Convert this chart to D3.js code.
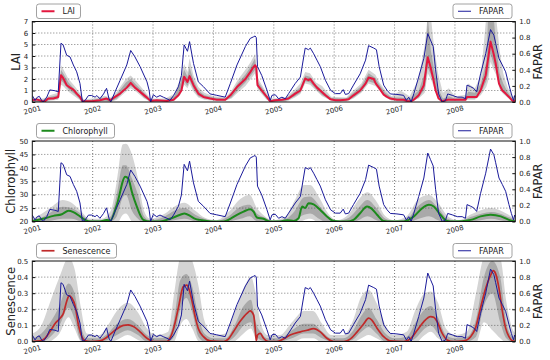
<!DOCTYPE html>
<meta charset="utf-8">
<script src="https://d3js.org/d3.v7.min.js"></script>
<style>
  body { margin:0; background:#fff; }
  text { font-family:"DejaVu Sans", sans-serif; fill:#222; }
</style>
<body>
<script>

/* Data */
/* ============================= */

var yearTicks = [2001, 2002, 2003, 2004, 2005, 2006, 2007, 2008];
var faparTicks = [0, 0.2, 0.4, 0.6, 0.8, 1.0];
var laiTicks = [0, 1, 2, 3, 4, 5, 6, 7];
var chlTicks = [20, 25, 30, 35, 40, 45, 50];
var senTicks = [0, 0.1, 0.2, 0.3, 0.4, 0.5];

// [time, FAPAR]
var fapar = [[2001.00,0.08],[2001.045,0.02],[2001.083,0.06],[2001.116,0.07],[2001.155,0.02],[2001.18,0.0],
  [2001.24,0.06],[2001.29,0.15],[2001.375,0.14],[2001.43,0.125],[2001.475,0.73],[2001.51,0.71],[2001.57,0.58],
  [2001.625,0.56],[2001.68,0.46],[2001.735,0.375],[2001.79,0.23],[2001.83,0.0],[2001.875,0.02],[2001.93,0.08],
  [2001.985,0.08],[2002.04,0.06],[2002.07,0.08],[2002.12,0.04],[2002.18,0.1],[2002.23,0.17],[2002.27,0.04],
  [2002.30,0.0],[2002.37,0.125],[2002.455,0.27],[2002.565,0.46],[2002.63,0.64],[2002.70,0.56],[2002.785,0.44],
  [2002.90,0.25],[2002.935,0.146],[2002.96,0.0],[2003.005,0.09],[2003.06,0.06],[2003.115,0.08],[2003.17,0.06],
  [2003.23,0.04],[2003.28,0.02],[2003.34,0.08],[2003.42,0.19],[2003.47,0.33],[2003.515,0.71],[2003.57,0.63],
  [2003.605,0.75],[2003.67,0.48],[2003.75,0.25],[2003.835,0.19],[2003.945,0.1],[2004.055,0.083],[2004.195,0.06],
  [2004.28,0.23],[2004.39,0.46],[2004.53,0.69],[2004.61,0.79],[2004.665,0.81],[2004.69,0.82],[2004.71,0.80],
  [2004.73,0.44],[2004.80,0.33],[2004.885,0.15],[2004.94,0.02],[2004.97,0.083],[2005.025,0.09],[2005.08,0.04],
  [2005.135,0.06],[2005.19,0.04],[2005.245,0.104],[2005.355,0.23],[2005.44,0.31],[2005.52,0.67],[2005.575,0.65],
  [2005.605,0.67],[2005.66,0.6],[2005.715,0.52],[2005.77,0.44],[2005.855,0.27],[2005.94,0.146],[2006.02,0.104],
  [2006.10,0.104],[2006.15,0.154],[2006.185,0.094],[2006.24,0.104],[2006.32,0.21],[2006.43,0.35],[2006.52,0.52],
  [2006.57,0.70],[2006.655,0.67],[2006.70,0.65],[2006.745,0.44],[2006.82,0.21],[2006.875,0.146],[2006.93,0.1],
  [2007.04,0.094],[2007.15,0.083],[2007.195,0.02],[2007.235,0.06],[2007.275,0.0],[2007.32,0.104],[2007.40,0.31],
  [2007.485,0.54],[2007.55,0.85],[2007.595,0.77],[2007.64,0.69],[2007.68,0.40],[2007.73,0.10],[2007.79,0.0],
  [2007.845,0.02],[2007.88,0.1],[2007.955,0.083],[2008.04,0.06],[2008.12,0.06],[2008.175,0.04],[2008.20,0.21],
  [2008.26,0.19],[2008.31,0.17],[2008.36,0.125],[2008.425,0.35],[2008.51,0.6],[2008.59,0.90],[2008.645,0.83],
  [2008.675,0.73],[2008.73,0.54],[2008.785,0.46],[2008.84,0.375],[2008.895,0.21],[2008.935,0.1],[2008.97,0.02],
  [2008.99,0.08],[2009.0,0.06]];

// [time, LAI]
var lai = [[2001.0,0.15],[2001.07,0.23],[2001.155,0.09],[2001.21,0.06],[2001.265,0.3],[2001.35,0.3],[2001.43,0.44],
  [2001.475,2.33],[2001.51,2.1],[2001.57,1.46],[2001.625,1.25],[2001.68,1.08],[2001.735,0.73],[2001.79,0.44],
  [2001.83,0.06],[2001.90,0.06],[2002.01,0.09],[2002.12,0.15],[2002.23,0.3],[2002.29,0.15],[2002.37,0.44],
  [2002.455,0.73],[2002.565,1.25],[2002.63,1.66],[2002.70,1.25],[2002.785,0.88],[2002.90,0.38],[2002.96,0.09],
  [2003.06,0.15],[2003.23,0.09],[2003.34,0.2],[2003.42,0.58],[2003.47,1.0],[2003.515,2.2],[2003.57,1.75],
  [2003.605,2.25],[2003.67,1.46],[2003.75,0.73],[2003.835,0.44],[2003.945,0.3],[2004.055,0.2],[2004.195,0.2],
  [2004.28,0.58],[2004.39,1.3],[2004.53,2.0],[2004.61,2.6],[2004.665,3.06],[2004.69,3.2],[2004.71,3.06],
  [2004.73,1.46],[2004.80,1.0],[2004.885,0.44],[2004.94,0.06],[2005.025,0.15],[2005.135,0.2],[2005.245,0.3],
  [2005.355,0.73],[2005.44,1.0],[2005.52,2.04],[2005.575,1.9],[2005.605,2.0],[2005.66,1.6],[2005.715,1.25],
  [2005.77,1.0],[2005.855,0.58],[2005.94,0.23],[2006.02,0.15],[2006.10,0.15],[2006.185,0.2],[2006.24,0.23],
  [2006.32,0.58],[2006.43,1.0],[2006.52,1.6],[2006.57,2.13],[2006.655,2.0],[2006.69,1.6],[2006.74,1.25],
  [2006.82,0.64],[2006.875,0.44],[2006.93,0.3],[2007.04,0.2],[2007.15,0.2],[2007.21,0.09],[2007.275,0.06],
  [2007.32,0.2],[2007.40,0.58],[2007.485,1.46],[2007.55,3.9],[2007.595,3.06],[2007.64,2.04],[2007.68,1.0],
  [2007.73,0.3],[2007.79,0.06],[2007.845,0.15],[2007.88,0.2],[2008.04,0.2],[2008.175,0.2],[2008.20,0.44],
  [2008.36,0.44],[2008.425,1.0],[2008.51,2.33],[2008.59,5.25],[2008.645,4.1],[2008.675,3.35],[2008.73,1.6],
  [2008.785,1.0],[2008.84,0.73],[2008.895,0.44],[2008.935,0.2],[2008.97,0.06],[2009.0,0.15]];

// [time, outer low, inner low, inner high, outer high]
var laiBand = [[2001.0,0,0.05,0.25,0.35],[2001.18,0,0,0.2,0.3],[2001.30,0.1,0.2,0.45,0.6],[2001.43,0.2,0.3,0.6,0.8],
  [2001.475,1.5,1.9,2.8,3.2],[2001.51,1.4,1.7,2.5,2.9],[2001.60,0.9,1.1,1.7,2.0],[2001.70,0.5,0.7,1.1,1.4],
  [2001.80,0.1,0.2,0.5,0.7],[2001.85,0,0,0.15,0.25],[2002.0,0,0.05,0.2,0.3],[2002.2,0,0.1,0.4,0.55],
  [2002.3,0,0.05,0.3,0.4],[2002.4,0.2,0.3,0.7,0.9],[2002.55,0.9,1.1,1.7,2.0],[2002.63,1.2,1.4,2.0,2.3],
  [2002.72,0.9,1.1,1.5,1.8],[2002.85,0.3,0.4,0.8,1.0],[2002.96,0,0.05,0.2,0.3],[2003.2,0,0.05,0.2,0.3],
  [2003.35,0.1,0.2,0.5,0.7],[2003.45,0.6,0.8,1.6,2.0],[2003.515,1.5,1.8,2.8,3.3],[2003.57,1.2,1.4,2.2,2.6],
  [2003.605,1.6,1.9,3.0,3.8],[2003.67,0.9,1.1,1.9,2.3],[2003.75,0.4,0.5,1.0,1.3],[2003.85,0.2,0.3,0.6,0.8],
  [2004.0,0.1,0.2,0.4,0.5],[2004.2,0.1,0.15,0.3,0.4],[2004.3,0.3,0.4,0.8,1.0],[2004.40,0.8,1.0,1.6,1.9],
  [2004.53,1.4,1.7,2.4,2.8],[2004.62,2.0,2.3,3.1,3.5],[2004.69,2.5,2.8,3.8,4.2],[2004.73,1.1,1.3,1.8,2.1],
  [2004.80,0.7,0.8,1.3,1.5],[2004.88,0.2,0.3,0.6,0.8],[2004.95,0,0,0.2,0.3],[2005.2,0,0.1,0.3,0.4],
  [2005.35,0.4,0.5,0.9,1.1],[2005.44,0.7,0.8,1.3,1.6],[2005.52,1.6,1.8,2.3,2.6],[2005.60,1.5,1.7,2.2,2.5],
  [2005.70,1.0,1.1,1.5,1.7],[2005.80,0.5,0.6,1.0,1.4],[2005.95,0.1,0.15,0.35,0.45],[2006.2,0.05,0.1,0.3,0.4],
  [2006.32,0.3,0.4,0.8,1.0],[2006.45,0.8,0.9,1.4,1.6],[2006.57,1.6,1.8,2.5,2.8],[2006.68,1.4,1.6,2.1,2.4],
  [2006.75,1.0,1.1,1.5,1.7],[2006.85,0.4,0.5,0.8,1.0],[2006.95,0.1,0.2,0.4,0.5],[2007.10,0.05,0.1,0.4,1.0],
  [2007.25,0,0,0.3,0.5],[2007.40,0.3,0.4,1.0,2.0],[2007.50,0.8,1.1,2.5,5.0],[2007.55,2.5,3.0,7.5,7.5],
  [2007.60,2.0,2.4,4.5,7.5],[2007.65,1.3,1.6,3.0,5.0],[2007.72,0.3,0.5,1.2,2.5],[2007.80,0,0,0.3,0.8],
  [2007.90,0.1,0.15,0.5,1.2],[2008.0,0.1,0.1,0.3,0.5],[2008.17,0.1,0.15,0.4,0.6],[2008.22,0.2,0.3,0.9,1.6],
  [2008.33,0.2,0.3,0.8,1.2],[2008.43,0.6,0.8,1.6,2.3],[2008.52,1.3,1.8,3.5,7.5],[2008.55,1.8,2.5,7.5,7.5],
  [2008.59,3.5,4.2,7.5,7.5],[2008.64,2.8,3.3,7.5,7.5],[2008.68,2.4,2.8,5,7.5],[2008.74,1.1,1.3,2.5,4.5],
  [2008.80,0.7,0.9,1.6,2.5],[2008.87,0.4,0.5,0.9,1.3],[2008.95,0,0.05,0.3,0.5],[2009.0,0,0.05,0.3,0.5]];

// [time, chlorophyll]
var chl = [[2001.0,20.2],[2001.18,21],[2001.35,22.1],[2001.49,22.7],[2001.60,24],[2001.68,23.5],[2001.79,21.9],
  [2001.875,20.6],[2001.96,20],[2002.12,20],[2002.23,20.6],[2002.29,20.3],[2002.40,26.2],[2002.54,36.7],
  [2002.59,36],[2002.65,31],[2002.73,25.6],[2002.84,20.6],[2002.95,20],[2003.115,20],[2003.28,21],[2003.45,22.5],
  [2003.52,23],[2003.62,22],[2003.70,21],[2003.78,20.6],[2003.89,20.2],[2004.0,20],[2004.17,20],[2004.28,21],
  [2004.39,22.5],[2004.50,23.7],[2004.61,24.6],[2004.665,23.7],[2004.72,21.5],[2004.83,21],[2004.94,20],
  [2005.11,20],[2005.22,20.5],[2005.33,20.2],[2005.41,21.2],[2005.47,25.6],[2005.52,25],[2005.575,26.8],
  [2005.66,26.4],[2005.77,24.3],[2005.88,21.9],[2005.99,20.2],[2006.21,20],[2006.32,20.6],[2006.43,23.1],
  [2006.545,25.6],[2006.62,24.8],[2006.71,22.5],[2006.82,20.2],[2006.93,20],[2007.15,20],[2007.32,21.9],
  [2007.46,25],[2007.57,26.2],[2007.65,25.6],[2007.76,22.5],[2007.87,20.2],[2007.98,20],[2008.26,20.6],
  [2008.425,21.9],[2008.59,22.5],[2008.76,21.9],[2008.895,20.6],[2009.0,20]];

var chlBand = [[2001.0,20,20,20.5,21],[2001.2,19,20,22,23.5],[2001.35,19.5,20.5,24,26],[2001.5,19.5,21,25.5,28],
  [2001.65,19.5,21,25,27],[2001.8,19,20,23,24],[2001.95,19,19.5,20.5,21],[2002.15,19,19.5,20.5,21],
  [2002.3,18.5,20,22,24],[2002.4,19,22,30,35],[2002.5,22.5,29,41,48.8],[2002.55,23,30,41,49],
  [2002.65,20,24,36,45],[2002.75,19,21,30,36],[2002.85,18.5,19.5,22,24],[2002.95,19,19.5,20.5,21],
  [2003.2,19.5,20,22,23],[2003.35,19.5,20.5,24,25.5],[2003.52,19.5,21,25,27],[2003.7,19,20,22.5,24],
  [2003.85,19,19.5,21,21.5],[2004.05,19.5,19.8,20.2,20.5],[2004.25,19,20,22,23.5],[2004.45,19.5,21,25.5,28.5],
  [2004.6,20,22,26.2,29.9],[2004.72,19,20,23,25],[2004.85,19,19.5,21.5,22],[2004.98,19.5,19.8,20.2,20.5],
  [2005.2,19,19.5,21,22],[2005.35,19,20.5,24,28],[2005.5,20.5,22.5,29,33.6],[2005.6,21,23,29.3,33.6],
  [2005.75,19.5,21,26,29],[2005.9,19,19.5,22,23],[2006.05,19.5,19.8,20.2,20.5],[2006.25,19,19.5,21.5,23],
  [2006.4,19.5,20.5,25,28],[2006.55,20,22,28,30.9],[2006.7,19.5,20.5,25,27.5],[2006.85,19,19.5,21,22],
  [2007.0,19.5,19.8,20.2,20.5],[2007.2,19,19.5,21,22],[2007.4,19.5,21,26,28.5],[2007.57,20,22,28,29.9],
  [2007.72,19.5,20.5,25,27],[2007.88,19,19.5,21,22],[2008.05,19.5,19.8,20.2,20.5],[2008.3,19.5,20,22,23],
  [2008.6,20,21,23.5,25],[2008.85,19.5,20,22,23],[2009.0,19.5,19.8,20.5,21]];

// [time, senescence]
var sen = [[2001.0,0],[2001.13,0.004],[2001.21,0.02],[2001.29,0.06],[2001.375,0.11],[2001.46,0.145],
  [2001.515,0.175],[2001.57,0.25],[2001.61,0.285],[2001.655,0.27],[2001.71,0.22],[2001.76,0.11],[2001.82,0.03],
  [2001.875,0.004],[2001.96,0],[2002.12,0.004],[2002.23,0.025],[2002.37,0.07],[2002.51,0.1],[2002.59,0.103],
  [2002.675,0.093],[2002.785,0.06],[2002.90,0.02],[2003.005,0],[2003.23,0],[2003.28,0.02],[2003.34,0.08],
  [2003.42,0.21],[2003.50,0.34],[2003.56,0.35],[2003.60,0.32],[2003.64,0.26],[2003.70,0.15],[2003.75,0.08],
  [2003.835,0.03],[2003.945,0.004],[2004.17,0],[2004.25,0.016],[2004.33,0.06],[2004.44,0.124],[2004.555,0.175],
  [2004.61,0.19],[2004.665,0.165],[2004.69,0.09],[2004.71,0.004],[2004.73,0.04],[2004.775,0.05],[2004.83,0.02],
  [2004.91,0],[2005.05,0],[2005.16,0.016],[2005.27,0.04],[2005.44,0.06],[2005.55,0.07],[2005.66,0.08],
  [2005.77,0.06],[2005.88,0.02],[2005.99,0],[2006.16,0],[2006.27,0.016],[2006.38,0.06],[2006.49,0.11],
  [2006.57,0.145],[2006.62,0.135],[2006.71,0.083],[2006.82,0.03],[2006.93,0.004],[2007.15,0],[2007.26,0.016],
  [2007.375,0.07],[2007.485,0.124],[2007.595,0.155],[2007.65,0.15],[2007.705,0.124],[2007.79,0.05],
  [2007.87,0.01],[2007.98,0],[2008.15,0.004],[2008.26,0.03],[2008.34,0.083],[2008.425,0.21],[2008.51,0.33],
  [2008.59,0.41],[2008.635,0.44],[2008.675,0.42],[2008.73,0.33],[2008.785,0.19],[2008.84,0.083],
  [2008.895,0.03],[2008.95,0.004],[2009.0,0]];

var senBand = [[2001.0,-0.01,0,0.02,0.05],[2001.15,-0.02,0,0.05,0.1],[2001.3,0.0,0.03,0.12,0.25],
  [2001.45,0.05,0.1,0.22,0.40],[2001.60,0.15,0.21,0.36,0.52],[2001.70,0.08,0.14,0.30,0.45],[2001.80,0.0,0.01,0.1,0.22],
  [2001.9,-0.02,0,0.02,0.05],[2002.1,-0.02,0,0.02,0.04],[2002.25,-0.01,0.01,0.05,0.10],[2002.4,0.01,0.04,0.11,0.19],
  [2002.58,0.04,0.07,0.14,0.24],[2002.75,0.01,0.04,0.10,0.18],[2002.9,-0.01,0.0,0.04,0.08],[2003.05,-0.02,0,0.02,0.04],
  [2003.25,-0.02,0,0.03,0.06],[2003.35,0.0,0.03,0.14,0.3],[2003.45,0.1,0.2,0.38,0.52],[2003.55,0.14,0.27,0.42,0.55],
  [2003.65,0.08,0.18,0.34,0.50],[2003.75,0.0,0.03,0.16,0.35],[2003.85,-0.02,0,0.05,0.13],[2004.0,-0.02,0,0.02,0.04],
  [2004.2,-0.02,0,0.02,0.05],[2004.35,0.0,0.03,0.1,0.18],[2004.5,0.05,0.1,0.22,0.33],[2004.62,0.08,0.12,0.26,0.40],
  [2004.7,0.02,0.04,0.12,0.3],[2004.78,-0.01,0.01,0.06,0.12],[2004.9,-0.02,0,0.02,0.04],[2005.1,-0.02,0,0.02,0.04],
  [2005.3,-0.01,0.02,0.07,0.12],[2005.5,0.02,0.05,0.11,0.19],[2005.65,0.02,0.05,0.11,0.19],[2005.8,-0.01,0.02,0.06,0.11],
  [2005.95,-0.02,0,0.02,0.04],[2006.15,-0.02,0,0.02,0.04],[2006.3,-0.01,0.01,0.06,0.12],[2006.45,0.02,0.06,0.16,0.28],
  [2006.57,0.04,0.09,0.21,0.32],[2006.7,0.02,0.05,0.14,0.24],[2006.85,-0.01,0,0.05,0.1],[2007.0,-0.02,0,0.02,0.04],
  [2007.2,-0.02,0,0.03,0.06],[2007.35,-0.01,0.02,0.12,0.2],[2007.5,0.04,0.08,0.2,0.3],[2007.6,0.06,0.1,0.22,0.31],
  [2007.72,0.02,0.05,0.15,0.24],[2007.85,-0.01,0,0.04,0.08],[2008.0,-0.02,0,0.02,0.04],[2008.2,-0.02,0,0.03,0.06],
  [2008.35,-0.01,0.03,0.14,0.3],[2008.48,0.12,0.22,0.4,0.52],[2008.62,0.07,0.3,0.5,0.55],[2008.75,0.02,0.12,0.4,0.52],
  [2008.85,-0.01,0.02,0.12,0.25],[2008.95,-0.02,0,0.03,0.08],[2009.0,-0.02,0,0.02,0.05]];


/* Set up */
/* ====== */

var width = 550, height = 360;
var x0 = 32.3, x1 = 515.3, panelH = 80.5;

var x = d3.scaleLinear().domain([2001, 2009]).range([x0, x1]);

var svg = d3.select('body').append('svg')
    .attr('width', width)
    .attr('height', height);

var panels = [
  { top: 21.5, label: 'LAI', data: lai, band: laiBand, domain: [0, 7], ticks: laiTicks,
    fmt: d3.format('d'), color: '#e3173e', lw: 2, curve: d3.curveLinear, labelX: 19.5, legendW: 44 },
  { top: 141, label: 'Chlorophyll', data: chl, band: chlBand, domain: [20, 50], ticks: chlTicks,
    fmt: d3.format('d'), color: '#1d8a1d', lw: 2, curve: d3.curveMonotoneX, labelX: 15, legendW: 78 },
  { top: 261, label: 'Senescence', data: sen, band: senBand, domain: [0, 0.5], ticks: senTicks,
    fmt: d3.format('.1f'), color: '#c02a2a', lw: 1.7, curve: d3.curveMonotoneX, labelX: 15, legendW: 80 }
];

var faparColor = '#1a1a9a';

panels.forEach(function(p, i) {
  var bottom = p.top + panelH;
  var y = d3.scaleLinear().domain(p.domain).range([bottom, p.top]);
  var yf = d3.scaleLinear().domain([0, 1]).range([bottom, p.top]);

  var g = svg.append('g');

  svg.append('clipPath').attr('id', 'clip' + i)
    .append('rect')
      .attr('x', x0).attr('y', p.top)
      .attr('width', x1 - x0).attr('height', panelH);

  var plot = g.append('g').attr('clip-path', 'url(#clip' + i + ')');

  // uncertainty bands
  var outer = d3.area().curve(p.curve)
      .x(function(d) { return x(d[0]); })
      .y0(function(d) { return y(d[1]); })
      .y1(function(d) { return y(d[4]); });
  var inner = d3.area().curve(p.curve)
      .x(function(d) { return x(d[0]); })
      .y0(function(d) { return y(d[2]); })
      .y1(function(d) { return y(d[3]); });

  plot.append('path').datum(p.band).attr('d', outer).attr('fill', '#d4d4d4');
  plot.append('path').datum(p.band).attr('d', inner).attr('fill', '#a9a9a9');

  // grid
  plot.selectAll('.hgrid').data(p.ticks.slice(1, -1)).enter()
    .append('line')
      .attr('x1', x0).attr('x2', x1)
      .attr('y1', function(d) { return y(d); })
      .attr('y2', function(d) { return y(d); })
      .attr('stroke', '#444').attr('stroke-width', 0.7)
      .attr('stroke-dasharray', '1,2');
  plot.selectAll('.vgrid').data(yearTicks.slice(1)).enter()
    .append('line')
      .attr('x1', function(d) { return x(d); })
      .attr('x2', function(d) { return x(d); })
      .attr('y1', p.top).attr('y2', bottom)
      .attr('stroke', '#444').attr('stroke-width', 0.7)
      .attr('stroke-dasharray', '1,2');

  // main series
  var line = d3.line().curve(p.curve)
      .x(function(d) { return x(d[0]); })
      .y(function(d) { return y(d[1]); });
  plot.append('path').datum(p.data)
    .attr('d', line)
    .attr('fill', 'none')
    .attr('stroke', p.color)
    .attr('stroke-width', p.lw)
    .attr('stroke-linejoin', 'round');

  // FAPAR (twin axis)
  var fline = d3.line()
      .x(function(d) { return x(d[0]); })
      .y(function(d) { return yf(d[1]); });
  plot.append('path').datum(fapar)
    .attr('d', fline)
    .attr('fill', 'none')
    .attr('stroke', faparColor)
    .attr('stroke-width', 1);

  // frame
  g.append('rect')
    .attr('x', x0).attr('y', p.top)
    .attr('width', x1 - x0).attr('height', panelH)
    .attr('fill', 'none').attr('stroke', '#111').attr('stroke-width', 1);

  // axes
  var left = g.append('g').attr('transform', 'translate(' + x0 + ',0)')
    .call(d3.axisLeft(y).tickValues(p.ticks).tickFormat(p.fmt).tickSizeInner(-3).tickSizeOuter(0).tickPadding(4));
  var right = g.append('g').attr('transform', 'translate(' + x1 + ',0)')
    .call(d3.axisRight(yf).tickValues(faparTicks).tickFormat(d3.format('.1f')).tickSizeInner(-3).tickSizeOuter(0).tickPadding(4));
  [left, right].forEach(function(a) {
    a.select('.domain').remove();
    a.selectAll('line').attr('stroke', '#111');
    a.selectAll('text').attr('font-size', 7).attr('fill', '#222')
      .style('font-family', '"DejaVu Sans", sans-serif');
  });

  // year labels (rotated)
  g.selectAll('.year').data(yearTicks).enter()
    .append('text')
      .attr('transform', function(d) { return 'translate(' + x(d) + ',' + (bottom + 8) + ') rotate(-15)'; })
      .attr('text-anchor', 'middle')
      .attr('dy', '0.35em')
      .attr('font-size', 7)
      .text(function(d) { return d; });

  // axis labels
  g.append('text')
    .attr('transform', 'translate(' + p.labelX + ',' + (p.top + panelH / 2) + ') rotate(-90)')
    .attr('text-anchor', 'middle')
    .attr('font-size', 11.5)
    .text(p.label);
  g.append('text')
    .attr('transform', 'translate(542,' + (p.top + panelH / 2) + ') rotate(-90)')
    .attr('text-anchor', 'middle')
    .attr('font-size', 11.5)
    .text('FAPAR');

  // legends
  function legend(lx, w, color, lw, name) {
    var ly = p.top - 17.5;
    var lg = g.append('g');
    lg.append('rect')
      .attr('x', lx).attr('y', ly).attr('width', w).attr('height', 14.5)
      .attr('rx', 2.5).attr('fill', '#fff').attr('stroke', '#8a8a8a').attr('stroke-width', 0.8);
    lg.append('line')
      .attr('x1', lx + 5).attr('x2', lx + 18)
      .attr('y1', ly + 7.25).attr('y2', ly + 7.25)
      .attr('stroke', color).attr('stroke-width', lw);
    lg.append('text')
      .attr('x', lx + 26).attr('y', ly + 7.25).attr('dy', '0.35em')
      .attr('font-size', 8)
      .text(name);
  }
  legend(36.5, p.legendW, p.color, p.lw, p.label);
  legend(453, 59, faparColor, 1, 'FAPAR');
});

</script>
</body>
